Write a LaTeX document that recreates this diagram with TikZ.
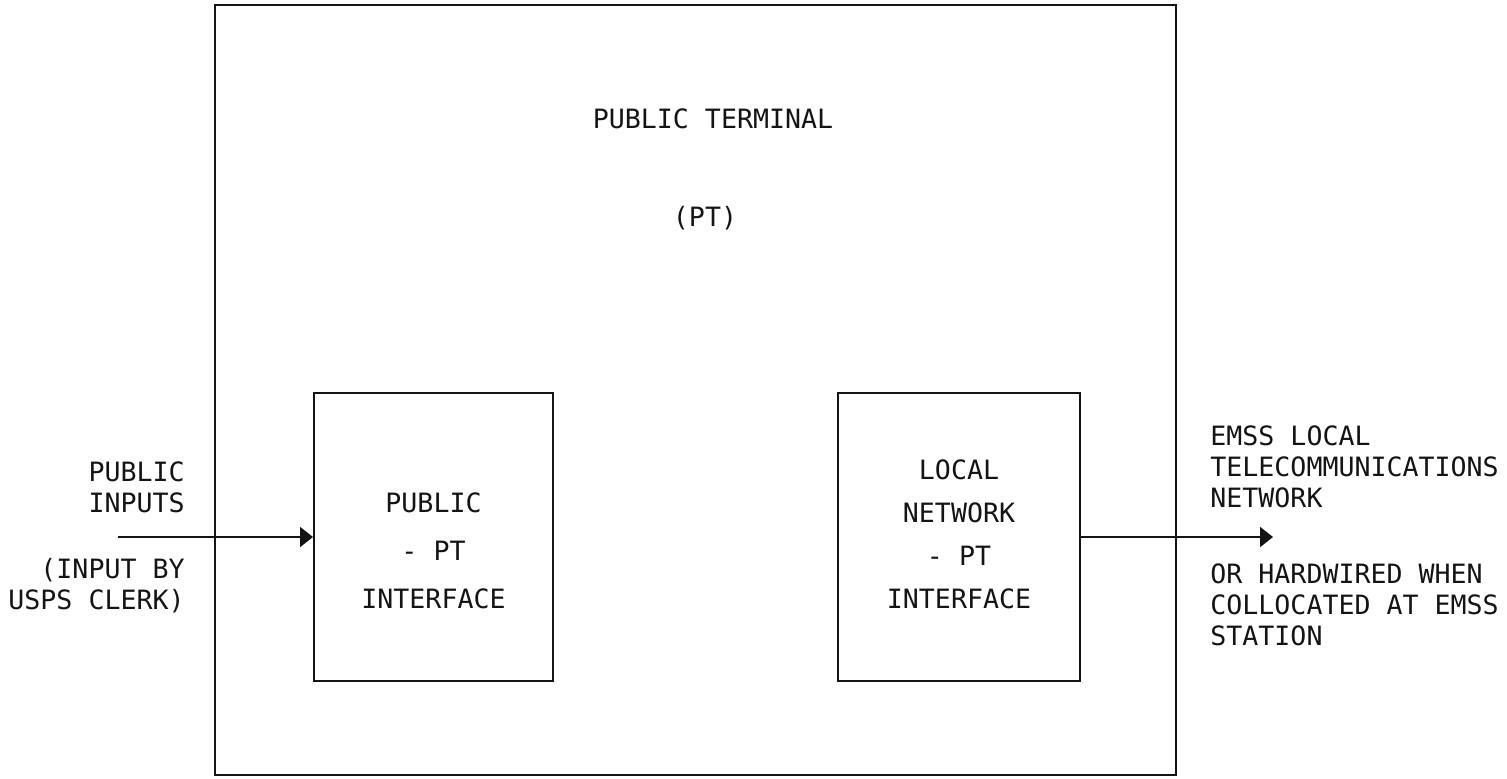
\documentclass[tikz,border=0pt]{standalone}
\usepackage{fontspec}
\setmonofont{DejaVu Sans Mono}
\usetikzlibrary{arrows.meta,positioning}
\definecolor{ptink}{HTML}{141414}
\tikzset{
  frm/.style={draw=ptink, line width=1pt, inner sep=0pt},
  txt/.style={font=\ttfamily\fontsize{13.3}{15.5}\selectfont, color=ptink, inner sep=0pt, align=center},
  sig/.style={-{Triangle[length=6.5pt, width=10pt]}, line width=1pt, color=ptink},
}

\begin{document}
\begin{tikzpicture}[x=0.5pt, y=-0.5pt]
  \useasboundingbox (0,0) rectangle (1507,778);
  % terminal outline, interface boxes inside it
  \node[frm, minimum width=480.5pt, minimum height=385pt] (pt) at (695.5,390) {};
  \node[frm, minimum width=119.5pt, minimum height=144pt] (pubif) at (433.5,537) {};
  \node[frm, minimum width=121pt, minimum height=144pt] (netif) at (959,537) {};
  \node[txt] (ptname) at (713,119) {PUBLIC TERMINAL};
  \node[txt] (ptabbr) at (705,218) {(PT)};
  \node[txt, font=\ttfamily\fontsize{13.3}{24}\selectfont] (pubtx) at (433.5,551) {PUBLIC\\- PT\\INTERFACE};
  \node[txt, font=\ttfamily\fontsize{13.3}{21.5}\selectfont] (nettx) at (959,534.5) {LOCAL\\NETWORK\\- PT\\INTERFACE};
  % outside labels
  \node[txt, anchor=east, align=right] (inlbl) at (185,487.5) {PUBLIC\\INPUTS};
  \node[txt, anchor=east, align=right] (clerk) at (185,586) {(INPUT BY\\USPS CLERK)};
  \node[txt, anchor=west, align=left] (emss) at (1210,466.5) {EMSS LOCAL\\TELECOMMUNICATIONS\\NETWORK};
  \node[txt, anchor=west, align=left] (wired) at (1210,605) {OR HARDWIRED WHEN\\COLLOCATED AT EMSS\\STATION};
  % signal in and out
  \coordinate (src) at (118,537);
  \coordinate (dst) at (1273,537);
  \draw[sig] (src) -- (pubif.west);
  \draw[sig] (netif.east) -- (dst);
\end{tikzpicture}
\end{document}
